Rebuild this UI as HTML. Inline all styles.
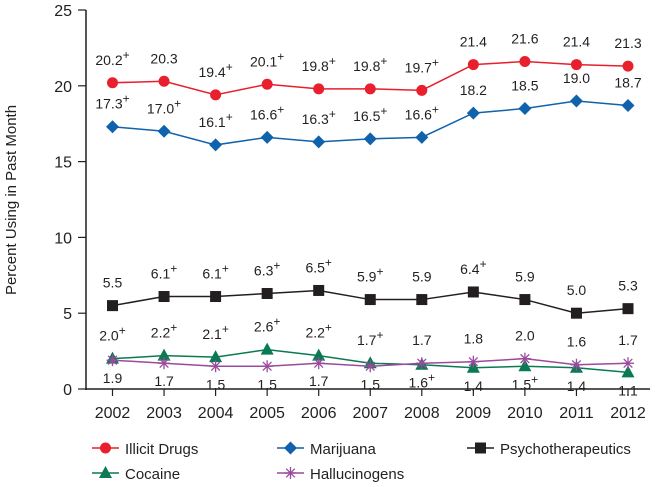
<!DOCTYPE html>
<html><head><meta charset="utf-8"><style>
body{margin:0;background:#fff;}
svg{display:block;font-family:"Liberation Sans",Arial,sans-serif;}
</style></head><body>
<svg id="c" width="656" height="487">
<text x="0" y="0" transform="translate(16,200) rotate(-90)" text-anchor="middle" font-size="15" fill="#231f20">Percent Using in Past Month</text>
<g id="axes"></g><g id="marks"></g><g id="legend"></g>
</svg>
<script>
const years=["2002","2003","2004","2005","2006","2007","2008","2009","2010","2011","2012"];
const yTicks=[0,5,10,15,20,25];
const illicit=[20.2,20.3,19.4,20.1,19.8,19.8,19.7,21.4,21.6,21.4,21.3];
const illicitPlus=[1,0,1,1,1,1,1,0,0,0,0];
const marijuana=[17.3,17.0,16.1,16.6,16.3,16.5,16.6,18.2,18.5,19.0,18.7];
const marijuanaPlus=[1,1,1,1,1,1,1,0,0,0,0];
const psycho=[5.5,6.1,6.1,6.3,6.5,5.9,5.9,6.4,5.9,5.0,5.3];
const psychoPlus=[0,1,1,1,1,1,0,1,0,0,0];
const cocaine=[2.0,2.2,2.1,2.6,2.2,1.7,1.6,1.4,1.5,1.4,1.1];
const cocainePlus=[1,1,1,1,1,1,1,0,1,0,0];
const halluc=[1.9,1.7,1.5,1.5,1.7,1.5,1.7,1.8,2.0,1.6,1.7];
const hallucPlus=[0,0,0,0,0,0,0,0,0,0,0];

const NS="http://www.w3.org/2000/svg";
const X0=112.5,XS=51.55,Y0=389,YS=15.16,AX=86;
const xs=i=>X0+i*XS, ys=v=>Y0-v*YS;
function mk(t,a,p){const e=document.createElementNS(NS,t);for(const k in a)e.setAttribute(k,a[k]);p.appendChild(e);return e;}
const axes=document.getElementById('axes'),marks=document.getElementById('marks'),leg=document.getElementById('legend');
let l=mk('line',{x1:AX,y1:ys(25),x2:AX,y2:Y0+1,stroke:'#231f20','stroke-width':1.5},axes);


l=mk('line',{x1:AX-1,y1:Y0,x2:650,y2:Y0,stroke:'#231f20','stroke-width':1.5},axes);


yTicks.forEach(v=>{mk('line',{x1:AX-8,x2:AX,y1:ys(v),y2:ys(v),stroke:'#231f20','stroke-width':1.2},axes);
 const t=mk('text',{x:AX-14,y:ys(v)+6,'text-anchor':'end','font-size':16,fill:'#231f20'},axes);t.textContent=v;
 
 });
years.forEach((y,i)=>{mk('line',{x1:xs(i),x2:xs(i),y1:Y0,y2:Y0+7,stroke:'#231f20','stroke-width':1.2},axes);
 const t=mk('text',{x:xs(i),y:Y0+29,'text-anchor':'middle','font-size':16,fill:'#231f20'},axes);t.textContent=y;
 
 });

function marker(type,x,y,c,g){
 if(type==='circle')return mk('circle',{cx:x,cy:y,r:5.5,fill:c},g);
 if(type==='diamond')return mk('polygon',{points:`${x},${y-6.5} ${x+6.5},${y} ${x},${y+6.5} ${x-6.5},${y}`,fill:c},g);
 if(type==='square')return mk('rect',{x:x-5.5,y:y-5.5,width:11,height:11,fill:c},g);
 if(type==='triangle')return mk('polygon',{points:`${x},${y-7} ${x+6.5},${y+5} ${x-6.5},${y+5}`,fill:c},g);
 const s=mk('g',{stroke:c,'stroke-width':1.3},g);
 [[0,6],[6,0],[4.3,4.3],[4.3,-4.3]].forEach(([dx,dy])=>mk('line',{x1:x-dx,y1:y-dy,x2:x+dx,y2:y+dy},s));return s;
}
function label(v,plus,x,y,g){
 const t=mk('text',{x:x,y:y,'text-anchor':'middle','font-size':14,fill:'#231f20'},g);
 t.appendChild(document.createTextNode(v.toFixed(1)));
 if(plus){const s=mk('tspan',{dy:-6,'font-size':12},t);s.textContent='+';}
 
 
}
const series=[
 {name:'illicit-drugs',vals:illicit,plus:illicitPlus,c:'#e81f2d',m:'circle'},
 {name:'marijuana',vals:marijuana,plus:marijuanaPlus,c:'#0f62ab',m:'diamond'},
 {name:'psychotherapeutics',vals:psycho,plus:psychoPlus,c:'#231f20',m:'square'},
 {name:'cocaine',vals:cocaine,plus:cocainePlus,c:'#0a7a52',m:'triangle',other:halluc},
 {name:'hallucinogens',vals:halluc,plus:hallucPlus,c:'#9b4a9e',m:'star',other:cocaine}
];
series.forEach(s=>{
 const g=mk('g',{},marks);
 
 
 const p=mk('polyline',{points:s.vals.map((v,i)=>xs(i)+','+ys(v)).join(' '),fill:'none',stroke:s.c,'stroke-width':1.5},g);
 
 
 s.vals.forEach((v,i)=>{const m=marker(s.m,xs(i),ys(v),s.c,g);
  
  
  let below=s.other&&(v<s.other[i]||(v===s.other[i]&&s.name==='hallucinogens'));
  label(v,s.plus[i],xs(i),below?ys(v)+23:ys(v)-18,g);});
});
const legItems=[['Illicit Drugs','#e81f2d','circle',92,448],['Marijuana','#0f62ab','diamond',277,448],['Psychotherapeutics','#231f20','square',467,448],['Cocaine','#0a7a52','triangle',92,473],['Hallucinogens','#9b4a9e','star',277,473]];
legItems.forEach(([n,c,m,x,y])=>{const g=mk('g',{},leg);
 
 
 mk('line',{x1:x,x2:x+27,y1:y,y2:y,stroke:c,'stroke-width':1.5},g);marker(m,x+13.5,y,c,g);
 const t=mk('text',{x:x+33,y:y+6,'font-size':15,fill:'#231f20'},g);t.textContent=n;});
</script>
</body></html>
